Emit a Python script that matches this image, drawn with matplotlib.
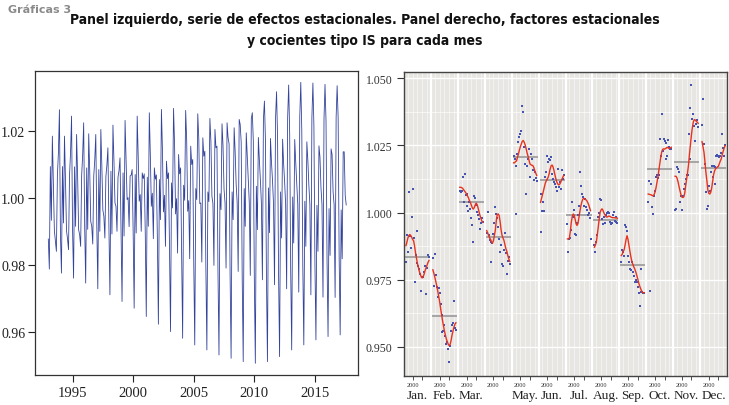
import numpy as np
import matplotlib
matplotlib.use("Agg")
import matplotlib.pyplot as plt

years = list(range(1993, 2018))
month_labels = ['Jan.', 'Feb.', 'Mar.', '', 'May.', 'Jun.', 'Jul.', 'Aug.', 'Sep.', 'Oct.', 'Nov.', 'Dec.']
n_months_left = 296  # Jan 1993 .. Aug 2017

# seasonal factors, one list per month, 1993..2017
sf_jan = [0.9877, 0.9890, 0.9905, 0.9915, 0.9918, 0.9915, 0.9908, 0.9900, 0.9895, 0.9875, 0.9850, 0.9830, 0.9810,
          0.9795, 0.9780, 0.9770, 0.9760, 0.9757, 0.9762, 0.9772, 0.9785, 0.9795, 0.9805, 0.9815, 0.9822]
sf_feb = [0.9787, 0.9775, 0.9760, 0.9745, 0.9728, 0.9710, 0.9690, 0.9670, 0.9645, 0.9622, 0.9600, 0.9580, 0.9560,
          0.9545, 0.9530, 0.9520, 0.9510, 0.9505, 0.9510, 0.9525, 0.9545, 0.9560, 0.9575, 0.9585, 0.9590]
sf_mar = [1.0094, 1.0094, 1.0093, 1.0090, 1.0085, 1.0080, 1.0075, 1.0070, 1.0062, 1.0055, 1.0045, 1.0038, 1.0028,
          1.0018, 1.0013, 1.0018, 1.0028, 1.0035, 1.0030, 1.0018, 1.0003, 0.9990, 0.9978, 0.9968, 0.9964]
sf_apr = [0.9933, 0.9925, 0.9915, 0.9906, 0.9900, 0.9892, 0.9886, 0.9895, 0.9915, 0.9935, 0.9970, 0.9993, 0.9995,
          0.9989, 0.9965, 0.9935, 0.9915, 0.9905, 0.9896, 0.9880, 0.9865, 0.9855, 0.9840, 0.9828, 0.9818]
sf_may = [1.0185, 1.0185, 1.0190, 1.0192, 1.0205, 1.0218, 1.0232, 1.0245, 1.0255, 1.0265, 1.0268, 1.0262, 1.0252,
          1.0238, 1.0222, 1.0210, 1.0195, 1.0181, 1.0178, 1.0176, 1.0175, 1.0168, 1.0156, 1.0147, 1.0138]
sf_jun = [1.0038, 1.0052, 1.0066, 1.0080, 1.0095, 1.0110, 1.0118, 1.0125, 1.0132, 1.0145, 1.0162, 1.0174, 1.0177,
          1.0170, 1.0156, 1.0140, 1.0125, 1.0113, 1.0106, 1.0103, 1.0106, 1.0113, 1.0122, 1.0130, 1.0138]
sf_jul = [0.9902, 0.9902, 0.9905, 0.9930, 0.9964, 0.9985, 0.9995, 0.9990, 0.9975, 0.9958, 0.9952, 0.9960, 0.9983,
          1.0005, 1.0026, 1.0040, 1.0050, 1.0053, 1.0052, 1.0048, 1.0045, 1.0038, 1.0030, 1.0018, 1.0007]
sf_aug = [0.9871, 0.9878, 0.9890, 0.9915, 0.9945, 0.9975, 1.0001, 1.0010, 1.0014, 1.0008, 0.9998, 0.9992, 0.9985,
          0.9983, 0.9985, 0.9987, 0.9986, 0.9984, 0.9982, 0.9981, 0.9981, 0.9981, 0.9980, 0.9980, 0.9979]
sf_sep = [0.9840, 0.9845, 0.9855, 0.9862, 0.9880, 0.9900, 0.9914, 0.9900, 0.9878, 0.9855, 0.9835, 0.9818, 0.9808,
          0.9798, 0.9790, 0.9780, 0.9768, 0.9755, 0.9740, 0.9728, 0.9718, 0.9710, 0.9703, 0.9702, 0.9702]
sf_oct = [1.0069, 1.0068, 1.0067, 1.0066, 1.0064, 1.0062, 1.0066, 1.0075, 1.0090, 1.0110, 1.0130, 1.0155, 1.0180,
          1.0205, 1.0225, 1.0235, 1.0237, 1.0236, 1.0238, 1.0241, 1.0243, 1.0240, 1.0238, 1.0241, 1.0243]
sf_nov = [1.0135, 1.0135, 1.0128, 1.0115, 1.0098, 1.0082, 1.0068, 1.0058, 1.0056, 1.0058, 1.0072, 1.0100, 1.0125,
          1.0150, 1.0180, 1.0220, 1.0255, 1.0290, 1.0318, 1.0338, 1.0346, 1.0344, 1.0340, 1.0336, 1.0332]
sf_dec = [1.0264, 1.0245, 1.0225, 1.0190, 1.0150, 1.0120, 1.0085, 1.0072, 1.0069, 1.0075, 1.0090, 1.0115, 1.0140,
          1.0155, 1.0162, 1.0166, 1.0170, 1.0172, 1.0182, 1.0192, 1.0200, 1.0215, 1.0228, 1.0240, 1.0249]

# SI ratios, one list per month, 1993..2017
si_jan = [0.9815, 0.9918, 0.9855, 1.0078, 0.9912, 0.9870, 0.9985, 1.0086, 0.9905, 0.9740, 0.9842, 0.9930, 0.9812,
          0.9800, 0.9790, 0.9770, 0.9708, 0.9762, 0.9760, 0.9780, 0.9800, 0.9697, 0.9795, 0.9842, 0.9836]
si_feb = [0.9830, 0.9728, 0.9846, 0.9766, 0.9725, 0.9685, 0.9720, 0.9700, 0.9660, 0.9620, 0.9555, 0.9560, 0.9580,
          0.9540, 0.9510, 0.9520, 0.9493, 0.9443, 0.9505, 0.9560, 0.9580, 0.9590, 0.9672, 0.9570, 0.9565]
si_mar = [1.0082, 1.0078, 1.0080, 1.0132, 1.0040, 1.0144, 1.0065, 1.0070, 1.0025, 1.0005, 1.0038, 1.0015, 0.9980,
          0.9954, 0.9892, 1.0063, 1.0053, 1.0028, 1.0003, 0.9990, 0.9975, 0.9939, 0.9960, 0.9978, 0.9965]
si_apr = [0.9925, 1.0001, 0.9915, 0.9898, 0.9892, 0.9815, 0.9886, 0.9920, 0.9963, 1.0020, 0.9995, 0.9980, 0.9945,
          0.9900, 0.9855, 0.9880, 0.9809, 0.9803, 0.9860, 0.9925, 0.9850, 0.9772, 0.9820, 0.9835, 0.9810]
si_may = [1.0212, 1.0200, 0.9995, 1.0175, 1.0218, 1.0262, 1.0280, 1.0293, 1.0305, 1.0398, 1.0376, 1.0245, 1.0180,
          1.0070, 1.0175, 1.0200, 1.0235, 1.0132, 1.0218, 1.0200, 1.0160, 1.0120, 1.0150, 1.0130, 1.0119]
si_jun = [0.9927, 1.0068, 1.0007, 1.0038, 1.0007, 1.0132, 1.0150, 1.0210, 1.0188, 1.0200, 1.0195, 1.0208, 1.0144,
          1.0125, 1.0113, 1.0106, 1.0094, 1.0082, 1.0163, 1.0094, 1.0115, 1.0088, 1.0160, 1.0125, 1.0140]
si_jul = [0.9958, 0.9852, 0.9900, 0.9905, 0.9935, 1.0038, 0.9985, 1.0010, 0.9921, 0.9915, 0.9960, 0.9990, 1.0025,
          1.0150, 1.0100, 1.0069, 1.0057, 1.0026, 1.0052, 1.0020, 1.0008, 0.9990, 1.0000, 0.9980, 0.9902]
si_aug = [0.9880, 0.9852, 0.9890, 0.9915, 0.9983, 1.0000, 1.0051, 1.0045, 0.9975, 0.9958, 0.9983, 0.9960, 0.9990,
          1.0000, 1.0002, 1.0000, 0.9965, 0.9958, 0.9962, 0.9990, 1.0001, 0.9970, 0.9985, 0.9965, 0.9962]
si_sep = [0.9815, 0.9859, 0.9852, 0.9840, 0.9952, 0.9946, 0.9930, 0.9840, 0.9815, 0.9790, 0.9788, 0.9815, 0.9778,
          0.9765, 0.9743, 0.9750, 0.9740, 0.9722, 0.9700, 0.9654, 0.9790, 0.9703, 0.9705, 0.9700, 0.9702]
si_oct = [1.0038, 1.0119, 0.9707, 1.0107, 1.0020, 0.9995, 1.0060, 1.0080, 1.0132, 1.0138, 1.0130, 1.0138, 1.0274,
          1.0210, 1.0367, 1.0230, 1.0274, 1.0265, 1.0200, 1.0258, 1.0212, 1.0270, 1.0245, 1.0238, 1.0238]
si_nov = [1.0011, 1.0013, 1.0169, 1.0162, 1.0150, 1.0038, 1.0063, 1.0010, 1.0063, 1.0088, 1.0107, 1.0125, 1.0138,
          1.0140, 1.0293, 1.0200, 1.0388, 1.0475, 1.0350, 1.0368, 1.0322, 1.0268, 1.0330, 1.0345, 1.0320]
si_dec = [1.0324, 1.0421, 1.0256, 1.0180, 1.0076, 1.0014, 1.0025, 1.0100, 1.0082, 1.0150, 1.0175, 1.0132, 1.0175,
          1.0107, 1.0170, 1.0210, 1.0215, 1.0212, 1.0205, 1.0212, 1.0220, 1.0293, 1.0240, 1.0212, 1.0250]

factors = [sf_jan, sf_feb, sf_mar, sf_apr, sf_may, sf_jun, sf_jul, sf_aug, sf_sep, sf_oct, sf_nov, sf_dec]
ratios = [si_jan, si_feb, si_mar, si_apr, si_may, si_jun, si_jul, si_aug, si_sep, si_oct, si_nov, si_dec]

serif = ['Liberation Serif', 'DejaVu Serif']
plt.rcParams['font.family'] = serif

fig = plt.figure(figsize=(7.29, 4.06), dpi=100)

# ---- left panel: seasonal component as a time series
sf_matrix = np.array(factors).T            # rows = years, cols = months
series = sf_matrix.flatten()[:n_months_left]
t = 1993 + np.arange(n_months_left) / 12.0

ax1 = fig.add_axes([0.048, 0.0739, 0.443, 0.7488])
ax1.plot(t, series, color='#34449c', lw=0.6)
ax1.set_xlim(1991.9, 2018.55)
ax1.set_ylim(0.947, 1.038)
ax1.set_xticks([1995, 2000, 2005, 2010, 2015])
ax1.set_yticks([0.96, 0.98, 1.00, 1.02])
ax1.set_yticklabels(['0.96', '0.98', '1.00', '1.02'])
ax1.tick_params(direction='out', length=5, width=0.8, labelsize=10, pad=2, colors='#222222')
ax1.tick_params(axis='x', labelsize=10.5, pad=3)
for s in ax1.spines.values():
    s.set_linewidth(0.9)
    s.set_color('#333333')

# ---- right panel: SI ratios and seasonal factors by month
W = 28.0
ax2 = fig.add_axes([0.5542, 0.0714, 0.4431, 0.7488])
ax2.set_facecolor('#e8e6e3')
ax2.set_xlim(0, 12 * W)
ax2.set_ylim(0.9392, 1.0523)

# grid
for y in [0.95, 0.975, 1.0, 1.025, 1.05]:
    ax2.axhline(y, color='white', lw=0.9, zorder=0)
for y in [0.9625, 0.9875, 1.0125, 1.0375]:
    ax2.axhline(y, color='white', lw=0.45, zorder=0)
for m in range(12):
    for yr in [1995, 2000, 2005, 2010, 2015]:
        ax2.axvline(m * W + (yr - 1991), color='white', lw=0.45, alpha=0.8, zorder=0)
    if m > 0:
        ax2.axvline(m * W, color='white', lw=1.6, zorder=0.5)

yrs = np.array(years)
for m in range(12):
    xs = m * W + (yrs - 1991)
    f = np.array(factors[m])
    ax2.plot([xs[0], xs[-1]], [f.mean(), f.mean()], color='#a5a5a5', lw=1.4, zorder=1)
    ax2.plot(xs, ratios[m], 's', color='#4454b0', ms=1.6, mew=0, zorder=2)
    ax2.plot(xs, f, color='#e8321e', lw=1.0, zorder=3)

tick_pos = []
tick_lab = []
for m in range(12):
    tick_pos += [m * W + (2000 - 1991), m * W + (2010 - 1991)]
    tick_lab += ['2000', '']
ax2.set_xticks(tick_pos)
ax2.set_xticklabels(tick_lab)
ax2.tick_params(axis='x', direction='out', length=3, width=0.6, labelsize=4.5, pad=1.5, colors='#333333')
ax2.set_yticks([0.95, 0.975, 1.0, 1.025, 1.05])
ax2.set_yticklabels(['0.950', '0.975', '1.000', '1.025', '1.050'])
ax2.tick_params(axis='y', direction='out', length=5, width=0.8, labelsize=8.5, colors='#333333')
for m, lab in enumerate(month_labels):
    ax2.text(m * W + W / 2, -0.062, lab, transform=ax2.get_xaxis_transform(),
             ha='center', va='center', fontsize=9.5, color='#222222')
for s in ax2.spines.values():
    s.set_linewidth(1.0)
    s.set_color('#444444')

# ---- titles
title_font = ['DejaVu Sans Condensed', 'Liberation Sans Narrow', 'DejaVu Sans']
fig.text(0.011, 0.975, 'Gráficas 3', ha='left', va='center', fontsize=8,
         fontweight='bold', color='#8a8a8a', family=title_font)
fig.text(0.5, 0.951, 'Panel izquierdo, serie de efectos estacionales. Panel derecho, factores estacionales',
         ha='center', va='center', fontsize=10, fontweight='bold', color='#111111',
         family=title_font, fontstretch='condensed')
fig.text(0.5, 0.899, 'y cocientes tipo IS para cada mes',
         ha='center', va='center', fontsize=10, fontweight='bold', color='#111111',
         family=title_font, fontstretch='condensed')

fig.savefig('out.png', dpi=100)
